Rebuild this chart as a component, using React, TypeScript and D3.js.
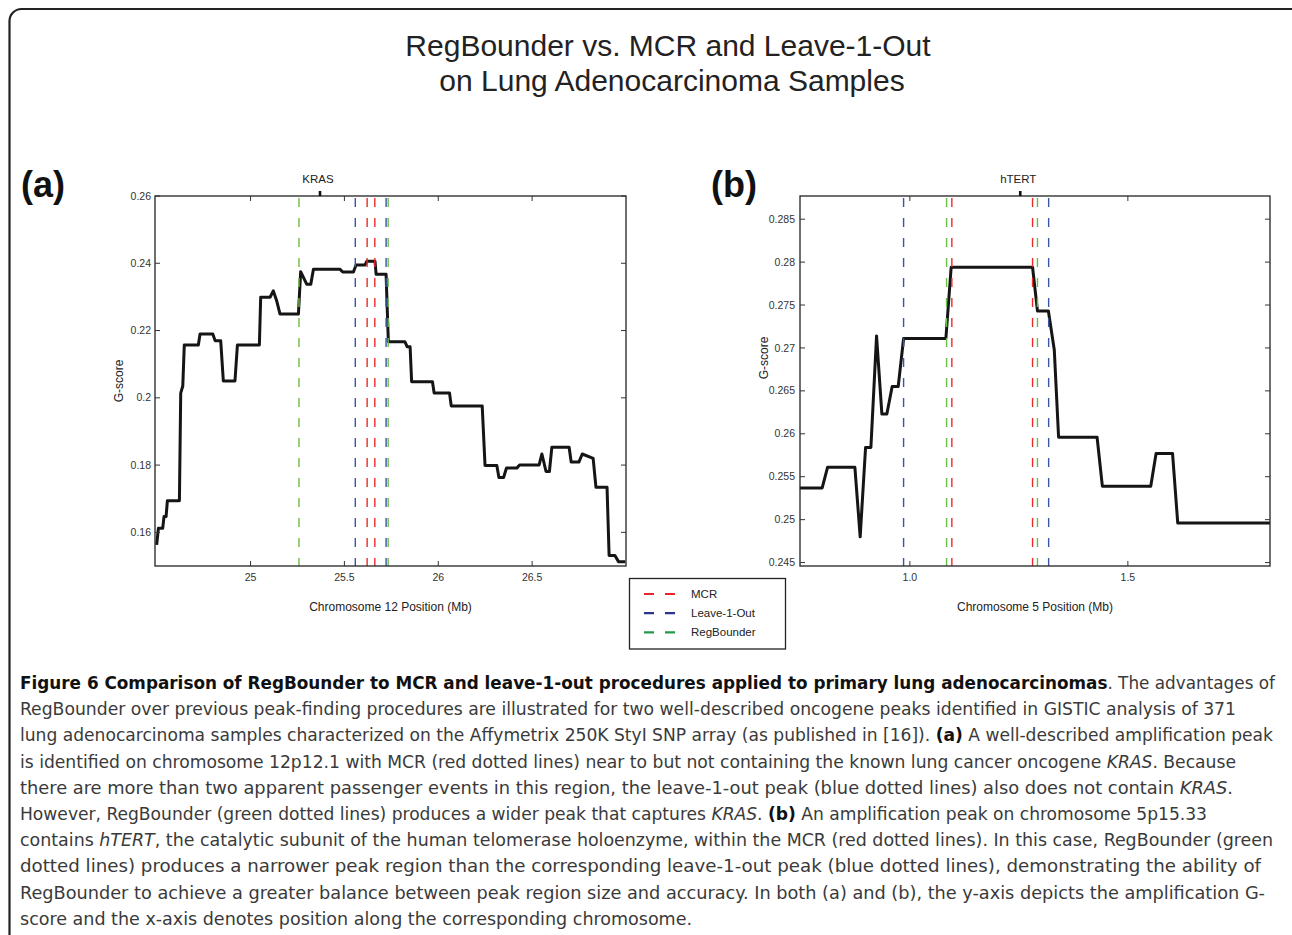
import * as d3 from 'd3';

// ---- data ----
const A_POS = [24.5, 24.509, 24.532, 24.539, 24.55, 24.557, 24.621, 24.628, 24.639, 24.647, 24.722, 24.731, 24.799, 24.811, 24.841, 24.855, 24.917, 24.93, 25.047, 25.054, 25.104, 25.121, 25.14, 25.157, 25.255, 25.267, 25.299, 25.321, 25.335, 25.477, 25.491, 25.548, 25.562, 25.61, 25.619, 25.663, 25.669, 25.722, 25.734, 25.822, 25.834, 25.85, 25.858, 25.969, 25.978, 26.06, 26.069, 26.234, 26.249, 26.312, 26.323, 26.348, 26.363, 26.418, 26.433, 26.537, 26.552, 26.574, 26.592, 26.605, 26.697, 26.708, 26.749, 26.767, 26.825, 26.84, 26.899, 26.91, 26.941, 26.96, 26.996];
const A_GSCORE = [0.1563, 0.1612, 0.1612, 0.1647, 0.1647, 0.1694, 0.1694, 0.2014, 0.2035, 0.2157, 0.2157, 0.219, 0.219, 0.217, 0.217, 0.205, 0.205, 0.2157, 0.2157, 0.2299, 0.2299, 0.2318, 0.2287, 0.2249, 0.2249, 0.2375, 0.2338, 0.2338, 0.2382, 0.2382, 0.2374, 0.2374, 0.2395, 0.2395, 0.2406, 0.2406, 0.2367, 0.2367, 0.2167, 0.2167, 0.2152, 0.2152, 0.2048, 0.2048, 0.2014, 0.2014, 0.1976, 0.1976, 0.1799, 0.1799, 0.1763, 0.1763, 0.1791, 0.1791, 0.18, 0.18, 0.1833, 0.1781, 0.1781, 0.1853, 0.1853, 0.1809, 0.1809, 0.1833, 0.182, 0.1734, 0.1734, 0.1531, 0.1531, 0.1513, 0.1513];
const A_MCR = [25.621, 25.662];
const A_LOO = [25.558, 25.722];
const A_REG = [25.258, 25.733];
const A_GENE = { name: 'KRAS', pos: 25.37 };
const A_XTICKS = [25, 25.5, 26, 26.5];
const A_YTICKS = [0.16, 0.18, 0.2, 0.22, 0.24, 0.26];

const B_POS = [0.7477, 0.7989, 0.8112, 0.8739, 0.886, 0.8984, 0.9106, 0.9236, 0.9358, 0.9472, 0.9594, 0.9732, 0.9856, 1.0826, 1.0947, 1.2814, 1.2927, 1.3177, 1.3312, 1.3411, 1.4294, 1.4415, 1.5525, 1.5647, 1.6025, 1.6144, 1.8261];
const B_GSCORE = [0.2537, 0.2537, 0.2561, 0.2561, 0.248, 0.2584, 0.2584, 0.2714, 0.2623, 0.2623, 0.2655, 0.2655, 0.2711, 0.2711, 0.2794, 0.2794, 0.2743, 0.2743, 0.2698, 0.2596, 0.2596, 0.2539, 0.2539, 0.2577, 0.2577, 0.2496, 0.2496];
const B_MCR = [1.0963, 1.2814];
const B_LOO = [0.9856, 1.3183];
const B_REG = [1.0842, 1.2927];
const B_GENE = { name: 'hTERT', pos: 1.2532 };
const B_XTICKS = [1.0, 1.5];
const B_XTICK_LABELS = ['1.0', '1.5'];
const B_YTICKS = [0.245, 0.25, 0.255, 0.26, 0.265, 0.27, 0.275, 0.28, 0.285];

const LEGEND = ['MCR', 'Leave-1-Out', 'RegBounder'];

const CAPTION = [
  [{ t: 'Figure 6 Comparison of RegBounder to MCR and leave-1-out procedures applied to primary lung adenocarcinomas', b: true }, { t: '. The advantages of' }],
  [{ t: 'RegBounder over previous peak-finding procedures are illustrated for two well-described oncogene peaks identified in GISTIC analysis of 371' }],
  [{ t: 'lung adenocarcinoma samples characterized on the Affymetrix 250K StyI SNP array (as published in [16]). ' }, { t: '(a)', b: true }, { t: ' A well-described amplification peak' }],
  [{ t: 'is identified on chromosome 12p12.1 with MCR (red dotted lines) near to but not containing the known lung cancer oncogene ' }, { t: 'KRAS', i: true }, { t: '. Because' }],
  [{ t: 'there are more than two apparent passenger events in this region, the leave-1-out peak (blue dotted lines) also does not contain ' }, { t: 'KRAS', i: true }, { t: '.' }],
  [{ t: 'However, RegBounder (green dotted lines) produces a wider peak that captures ' }, { t: 'KRAS', i: true }, { t: '. ' }, { t: '(b)', b: true }, { t: ' An amplification peak on chromosome 5p15.33' }],
  [{ t: 'contains ' }, { t: 'hTERT', i: true }, { t: ', the catalytic subunit of the human telomerase holoenzyme, within the MCR (red dotted lines). In this case, RegBounder (green' }],
  [{ t: 'dotted lines) produces a narrower peak region than the corresponding leave-1-out peak (blue dotted lines), demonstrating the ability of' }],
  [{ t: 'RegBounder to achieve a greater balance between peak region size and accuracy. In both (a) and (b), the y-axis depicts the amplification G-' }],
  [{ t: 'score and the x-axis denotes position along the corresponding chromosome.' }],
];
const CAPTION_RIGHT = [1275, 1236, 1273, 1236, 1233, 1207, 1273, 1261, 1265, 692];

// ---- styles ----
const FONT = 'Liberation Sans, Arial, Helvetica, sans-serif';
const PLOT_COL = { mcr: '#ee2a2a', loo: '#3a55a8', reg: '#6cbd45' };
const LEG_COL = ['#e8262c', '#2b3590', '#22994a'];

type PanelProps = {
  pos: number[]; g: number[];
  xDomain: [number, number]; yDomain: [number, number];
  left: number; right: number; top: number; bottom: number;
  xTicks: number[]; xLabels?: string[]; yTicks: number[];
  mcr: number[]; loo: number[]; reg: number[];
  gene: { name: string; pos: number };
  xTitle: string; yTitleY: number; yLabelGap: number;
};

const fmt = (d: number) => String(+d.toFixed(3));

function Panel(p: PanelProps) {
  const x = d3.scaleLinear().domain(p.xDomain).range([p.left, p.right]);
  const y = d3.scaleLinear().domain(p.yDomain).range([p.bottom, p.top]);
  const pts = p.pos.map((v, i) => [v, p.g[i]] as [number, number]);
  const line = d3.line<[number, number]>().x(d => x(d[0])).y(d => y(d[1]));
  const tk = 5;
  const bounds: [number[], string][] = [[p.loo, PLOT_COL.loo], [p.mcr, PLOT_COL.mcr], [p.reg, PLOT_COL.reg]];
  return (
    <g>
      <path d={line(pts) || ''} fill="none" stroke="#151515" strokeWidth={3} strokeLinejoin="round" />
      {bounds.map(([vals, col], k) =>
        vals.map((v, j) => (
          <line key={`${k}-${j}`} x1={x(v)} x2={x(v)} y1={p.top + 2} y2={p.bottom} stroke={col}
            strokeWidth={1.4} strokeDasharray="9,11" />
        ))
      )}
      <rect x={p.left} y={p.top} width={p.right - p.left} height={p.bottom - p.top} fill="none" stroke="#222" strokeWidth={1.3} />
      {p.yTicks.map(t => (
        <g key={`y${t}`}>
          <line x1={p.left} x2={p.left + tk} y1={y(t)} y2={y(t)} stroke="#333" strokeWidth={1} />
          <line x1={p.right} x2={p.right - tk} y1={y(t)} y2={y(t)} stroke="#333" strokeWidth={1} />
          <text x={p.left - p.yLabelGap} y={y(t) + 3.6} textAnchor="end" fontSize={10.5} fill="#333" fontFamily={FONT}>{fmt(t)}</text>
        </g>
      ))}
      {p.xTicks.map((t, i) => (
        <g key={`x${t}`}>
          <line x1={x(t)} x2={x(t)} y1={p.bottom} y2={p.bottom - tk} stroke="#333" strokeWidth={1} />
          <line x1={x(t)} x2={x(t)} y1={p.top} y2={p.top + tk} stroke="#333" strokeWidth={1} />
          <text x={x(t)} y={p.bottom + 14.5} textAnchor="middle" fontSize={10.5} fill="#333" fontFamily={FONT}>
            {p.xLabels ? p.xLabels[i] : fmt(t)}
          </text>
        </g>
      ))}
      <line x1={x(p.gene.pos)} x2={x(p.gene.pos)} y1={p.top - 5} y2={p.top} stroke="#111" strokeWidth={2.6} />
      <text x={x(p.gene.pos) - 2} y={p.top - 13} textAnchor="middle" fontSize={11.5} fill="#222" fontFamily={FONT}>{p.gene.name}</text>
      <text x={(p.left + p.right) / 2} y={p.bottom + 45} textAnchor="middle" fontSize={12} fill="#222" fontFamily={FONT}>{p.xTitle}</text>
      <text transform={`translate(${p.left - 32},${p.yTitleY}) rotate(-90)`} textAnchor="middle" fontSize={12} fill="#222" fontFamily={FONT}>G-score</text>
    </g>
  );
}

export default function App() {
  const capFont = '"Liberation Sans Narrow", "DejaVu Sans Condensed", "Roboto Condensed", Arial, sans-serif';
  return (
    <svg width={1292} height={935} style={{ position: 'absolute', left: 0, top: 0, display: 'block', background: '#fff' }}>
      <rect x={9.5} y={9} width={1300} height={1000} rx={12} fill="#fff" stroke="#222" strokeWidth={2.2} />

      <text x={668} y={56} textAnchor="middle" fontSize={30} fill="#222" fontFamily={FONT}>RegBounder vs. MCR and Leave-1-Out</text>
      <text x={672} y={91} textAnchor="middle" fontSize={30} fill="#222" fontFamily={FONT}>on Lung Adenocarcinoma Samples</text>

      <text x={21} y={197} fontSize={36} fontWeight="bold" fill="#111" fontFamily={FONT}>(a)</text>
      <text x={711} y={197} fontSize={36} fontWeight="bold" fill="#111" fontFamily={FONT}>(b)</text>

      <Panel pos={A_POS} g={A_GSCORE} xDomain={[24.491, 27.0]} yDomain={[0.15, 0.26]}
        left={155} right={626} top={196} bottom={566}
        xTicks={A_XTICKS} yTicks={A_YTICKS} mcr={A_MCR} loo={A_LOO} reg={A_REG} gene={A_GENE}
        xTitle="Chromosome 12 Position (Mb)" yTitleY={381} yLabelGap={4} />
      <Panel pos={B_POS} g={B_GSCORE} xDomain={[0.748, 1.826]} yDomain={[0.2446, 0.2877]}
        left={800} right={1270} top={196} bottom={566}
        xTicks={B_XTICKS} xLabels={B_XTICK_LABELS} yTicks={B_YTICKS} mcr={B_MCR} loo={B_LOO} reg={B_REG} gene={B_GENE}
        xTitle="Chromosome 5 Position (Mb)" yTitleY={358} yLabelGap={5} />

      <g>
        <rect x={629.5} y={578.5} width={156} height={70.5} fill="#fff" stroke="#222" strokeWidth={1.3} />
        {LEGEND.map((name, i) => (
          <g key={name}>
            <line x1={644} x2={676} y1={594 + i * 19.2} y2={594 + i * 19.2} stroke={LEG_COL[i]} strokeWidth={2.2} strokeDasharray="10,11" />
            <text x={691} y={598 + i * 19.2} fontSize={11.5} fill="#222" fontFamily={FONT}>{name}</text>
          </g>
        ))}
      </g>

      <g fontFamily={capFont} fontSize={18} fill="#3a3a3a">
        {CAPTION.map((segs, i) => (
          <text key={i} x={20} y={689 + i * 26.2} textLength={CAPTION_RIGHT[i] - 20} lengthAdjust="spacingAndGlyphs">
            {segs.map((s: any, j: number) => (
              <tspan key={j} fontWeight={s.b ? 'bold' : 'normal'} fontStyle={s.i ? 'italic' : 'normal'} fill={s.b ? '#111' : undefined}>{s.t}</tspan>
            ))}
          </text>
        ))}
      </g>
    </svg>
  );
}
